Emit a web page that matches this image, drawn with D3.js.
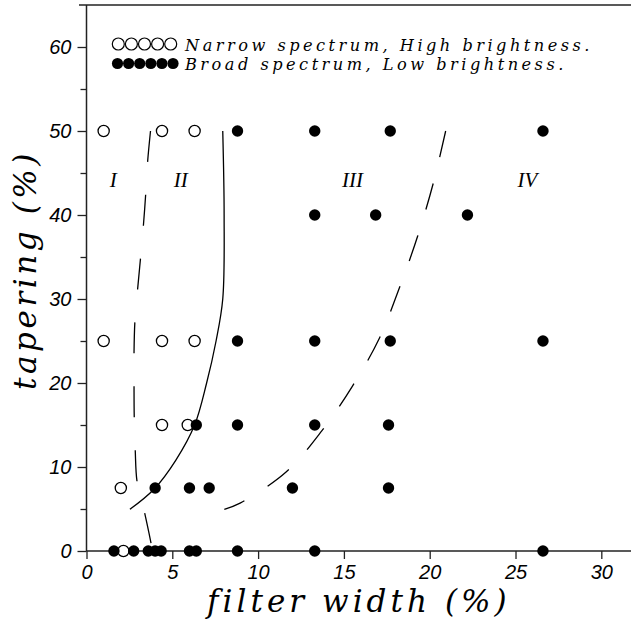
<!DOCTYPE html>
<html><head><meta charset="utf-8">
<script src="https://cdn.jsdelivr.net/npm/d3@7"></script>
<style>body{margin:0;background:#fff}svg{display:block}</style>
</head><body><svg id="c" width="631" height="626"></svg>
<script>
// ---- data ----
const xTicks = [0, 5, 10, 15, 20, 25, 30];
const yTicks = [0, 10, 20, 30, 40, 50, 60];
const yMinorTicks = [5, 15, 25, 35, 45, 55];

// Narrow spectrum, High brightness (open circles)
const narrowX = [1.0, 4.4, 6.3, 1.0, 4.4, 6.3, 4.4, 5.9, 2.0, 2.15];
const narrowY = [50, 50, 50, 25, 25, 25, 15, 15, 7.5, 0];

// Broad spectrum, Low brightness (filled circles)
const broadX = [8.8, 13.3, 17.7, 26.6,
                13.3, 16.85, 22.2,
                8.8, 13.3, 17.7, 26.6,
                6.4, 8.8, 13.3, 17.6,
                4.0, 6.0, 7.15, 12.0, 17.6,
                1.6, 2.75, 3.6, 4.0, 4.35, 6.0, 6.4, 8.8, 13.3, 26.6];
const broadY = [50, 50, 50, 50,
                40, 40, 40,
                25, 25, 25, 25,
                15, 15, 15, 15,
                7.5, 7.5, 7.5, 7.5, 7.5,
                0, 0, 0, 0, 0, 0, 0, 0, 0, 0];

// boundary curves
const b12X = [3.73, 3.56, 3.45, 3.31, 3.15, 2.98, 2.82, 2.77, 2.77, 2.78, 2.84, 2.95, 3.38, 3.76];
const b12Y = [50, 46.3, 42.5, 38.6, 34.9, 31.2, 27.3, 23.7, 19.8, 16.2, 12.0, 8.2, 4.6, 0.95];
const b23X = [7.94, 8.02, 7.94, 7.55, 7.0, 6.3, 5.2, 3.93, 2.53];
const b23Y = [50, 40, 30, 25, 20, 15, 10.8, 7.35, 4.96];
const b34X = [20.93, 20.21, 19.30, 18.23, 17.06, 15.49, 13.71, 11.63, 8.95, 8.03];
const b34Y = [50, 43.8, 37.5, 31.3, 25.3, 19.6, 14.3, 9.4, 5.7, 4.96];

const regionLabels = ["I", "II", "III", "IV"];
const regionX = [1.56, 5.49, 15.5, 25.7];
const regionY = [44.2, 44.2, 44.2, 44.2];

const legendLabels = ["Narrow spectrum, High brightness.", "Broad spectrum, Low brightness."];
const xTitle = "filter width (%)";
const yTitle = "tapering (%)";

// ---- drawing ----
const svg = d3.select("#c");
const x = d3.scaleLinear().domain([0, 31.73]).range([86.5, 631]);
const y = d3.scaleLinear().domain([0, 65]).range([551, 5]);

const tickFont = "'Liberation Sans', Arial, sans-serif";
const serif = "'DejaVu Serif', serif";

function spreadTo(sel, target) {
  const w = sel.node().getComputedTextLength();
  const n = sel.text().length;
  sel.attr("letter-spacing", (target - w) / n);
}

// top border
svg.append("line").attr("x1", 79).attr("x2", 631).attr("y1", y(65)).attr("y2", y(65))
  .attr("stroke", "#222").attr("stroke-width", 1.5);
// axis lines
svg.append("line").attr("x1", x(0)).attr("x2", x(0)).attr("y1", y(65)).attr("y2", y(0))
  .attr("stroke", "#222").attr("stroke-width", 1.5);
svg.append("line").attr("x1", x(0)).attr("x2", 631).attr("y1", y(0)).attr("y2", y(0))
  .attr("stroke", "#222").attr("stroke-width", 1.5);

// x axis
const gx = svg.append("g").attr("transform", `translate(0,${y(0)})`)
  .call(d3.axisBottom(x).tickValues(xTicks).tickSize(8).tickPadding(6).tickFormat(d3.format("d")));
gx.select(".domain").remove();
gx.selectAll("line").attr("stroke", "#222").attr("stroke-width", 1.3);
gx.selectAll("text").attr("font-family", tickFont).attr("font-style", "italic")
  .attr("font-size", 20).attr("fill", "#000");

// y axis
const gy = svg.append("g").attr("transform", `translate(${x(0)},0)`)
  .call(d3.axisLeft(y).tickValues(yTicks).tickSize(9).tickPadding(6).tickFormat(d3.format("d")));
gy.select(".domain").remove();
gy.selectAll("line").attr("stroke", "#222").attr("stroke-width", 1.3);
gy.selectAll("text").attr("font-family", tickFont).attr("font-style", "italic")
  .attr("font-size", 20).attr("fill", "#000");
const gym = svg.append("g").attr("transform", `translate(${x(0)},0)`)
  .call(d3.axisLeft(y).tickValues(yMinorTicks).tickSize(6).tickFormat(""));
gym.select(".domain").remove();
gym.selectAll("line").attr("stroke", "#222").attr("stroke-width", 1.3);

// axis titles
const xt = svg.append("text").attr("x", 207).attr("y", 612)
  .attr("font-family", serif).attr("font-style", "italic").attr("font-size", 31)
  .attr("fill", "#000").text(xTitle);
spreadTo(xt, 303);
const yt = svg.append("text").attr("transform", "translate(36,390) rotate(-90)")
  .attr("font-family", serif).attr("font-style", "italic").attr("font-size", 31)
  .attr("fill", "#000").text(yTitle);
spreadTo(yt, 240);

// curves
const line = d3.line().x(d => x(d[0])).y(d => y(d[1])).curve(d3.curveCatmullRom.alpha(0.5));
svg.append("path").datum(b12X.map((v, i) => [v, b12Y[i]])).attr("d", line)
  .attr("fill", "none").attr("stroke", "#000").attr("stroke-width", 1.3).attr("stroke-dasharray", "31 33");
svg.append("path").datum(b23X.map((v, i) => [v, b23Y[i]])).attr("d", line)
  .attr("fill", "none").attr("stroke", "#000").attr("stroke-width", 1.3);
svg.append("path").datum(b34X.map((v, i) => [v, b34Y[i]])).attr("d", line)
  .attr("fill", "none").attr("stroke", "#000").attr("stroke-width", 1.3).attr("stroke-dasharray", "27 27");

// points: open first, then filled on top
svg.append("g").selectAll("circle").data(narrowX.map((v, i) => [v, narrowY[i]])).join("circle")
  .attr("cx", d => x(d[0])).attr("cy", d => y(d[1])).attr("r", 5.6)
  .attr("fill", "#fff").attr("stroke", "#000").attr("stroke-width", 1.3);
svg.append("g").selectAll("circle").data(broadX.map((v, i) => [v, broadY[i]])).join("circle")
  .attr("cx", d => x(d[0])).attr("cy", d => y(d[1])).attr("r", 5.7)
  .attr("fill", "#000");

// region labels
svg.append("g").selectAll("text").data(regionLabels).join("text")
  .attr("x", (d, i) => x(regionX[i])).attr("y", (d, i) => y(regionY[i]) + 7)
  .attr("text-anchor", "middle").attr("font-family", "'Liberation Serif', serif")
  .attr("font-style", "italic").attr("font-size", 21).attr("fill", "#000").text(d => d);

// legend
const lg = svg.append("g");
lg.selectAll("circle.o").data(d3.range(5)).join("circle").attr("class", "o")
  .attr("cx", i => 118.3 + i * 13.1).attr("cy", 44).attr("r", 6)
  .attr("fill", "#fff").attr("stroke", "#000").attr("stroke-width", 1.2);
lg.selectAll("circle.f").data(d3.range(6)).join("circle").attr("class", "f")
  .attr("cx", i => 117.5 + i * 11.1).attr("cy", 63.5).attr("r", 5.6)
  .attr("fill", "#000");
const l1 = lg.append("text").attr("x", 185).attr("y", 50.5).attr("font-family", serif)
  .attr("font-style", "italic").attr("font-size", 16.2).attr("fill", "#000").text(legendLabels[0]);
const w1 = l1.node().getComputedTextLength();
const ls = (408 - w1) / legendLabels[0].length;
l1.attr("letter-spacing", ls);
lg.append("text").attr("x", 185).attr("y", 70).attr("font-family", serif)
  .attr("font-style", "italic").attr("font-size", 16.2).attr("letter-spacing", ls)
  .attr("fill", "#000").text(legendLabels[1]);
</script>
</body></html>
